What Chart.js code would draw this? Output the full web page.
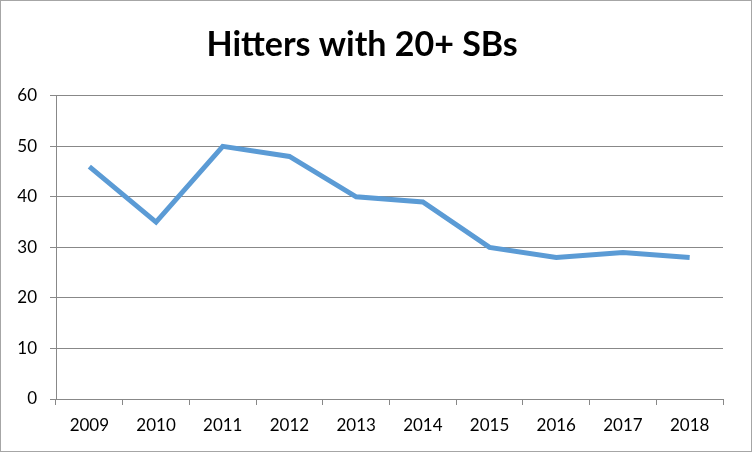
<!DOCTYPE html>
<html>
<head>
<meta charset="utf-8">
<script src="https://cdn.jsdelivr.net/npm/chart.js@4"></script>
<style>
  html, body { margin: 0; padding: 0; background: #fff; }
  #wrap { width: 750px; height: 450px; border: 1px solid #a6a6a6; }
</style>
</head>
<body>
<div id="wrap"><canvas id="c" width="750" height="450"></canvas></div>
<script>
// Hitters with 20+ stolen bases per season
const years = ["2009", "2010", "2011", "2012", "2013", "2014", "2015", "2016", "2017", "2018"];
const hitters = [46, 35, 50, 48, 40, 39, 30, 28, 29, 28];

const fontFam = "Lato, 'Open Sans', sans-serif";

new Chart(document.getElementById('c'), {
    type: 'line',
    data: {
        labels: years,
        datasets: [{
            label: 'Hitters',
            data: hitters,
            borderColor: '#5b9bd5',
            borderWidth: 5,
            pointRadius: 0,
            tension: 0,
            fill: false
        }]
    },
    options: {
        responsive: false,
        animation: false,
        layout: { padding: { left: 0, right: 28, top: 0, bottom: 0 } },
        plugins: {
            legend: { display: false },
            tooltip: { enabled: false },
            title: {
                display: true,
                text: 'Hitters with 20+ SBs',
                color: '#000',
                font: { family: fontFam, size: 34, weight: 'bold' },
                padding: { top: 24, bottom: 30 }
            }
        },
        scales: {
            x: {
                offset: true,
                grid: {
                    offset: true,
                    drawOnChartArea: false,
                    drawTicks: true,
                    tickLength: 6,
                    color: '#888'
                },
                border: { display: true, color: '#888', width: 1 },
                ticks: {
                    color: '#000',
                    padding: 10,
                    font: { family: fontFam, size: 17 }
                },
                afterFit: s => { s.height = 52; }
            },
            y: {
                min: 0,
                max: 60,
                ticks: {
                    stepSize: 10,
                    color: '#000',
                    padding: 13,
                    font: { family: fontFam, size: 17 }
                },
                grid: {
                    color: '#888',
                    tickLength: 6
                },
                border: { display: true, color: '#888', width: 1 },
                afterFit: s => { s.width = 55; }
            }
        }
    }
});
</script>
</body>
</html>
